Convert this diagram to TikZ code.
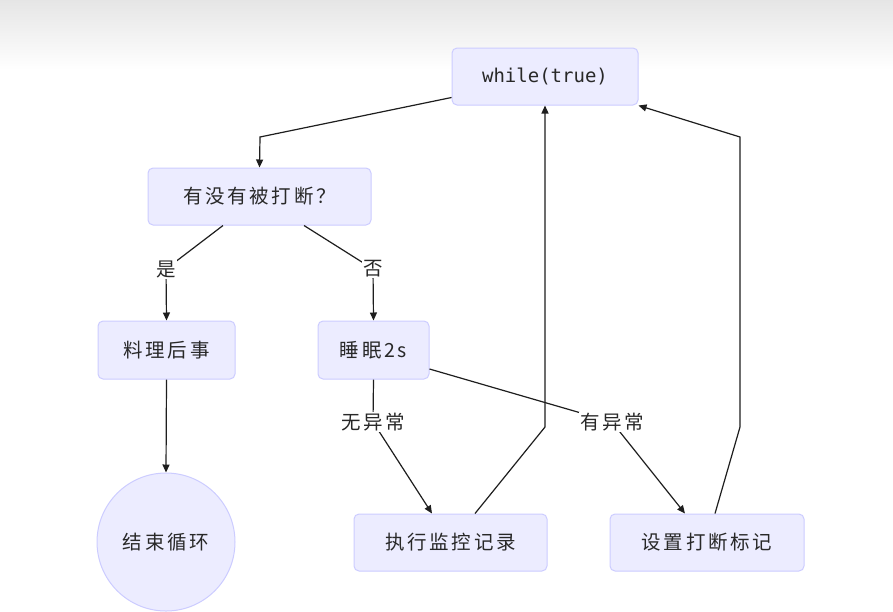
\documentclass[tikz,border=0pt]{standalone}
\usepackage{fontspec}
\setmainfont{Noto Sans CJK SC}
\newfontfamily\cjk[LetterSpace=14]{Noto Sans CJK SC}
\newfontfamily\codefont{DejaVu Sans Mono}
\usetikzlibrary{arrows.meta}
\definecolor{nodefill}{RGB}{236,236,255}
\definecolor{nodeline}{RGB}{204,204,255}
\definecolor{txt}{RGB}{40,40,40}
\definecolor{edge}{RGB}{30,30,30}
\begin{document}
\begin{tikzpicture}[x=1pt,y=-1pt,
  box/.style={draw=nodeline,fill=nodefill,line width=1pt,rounded corners=5pt,
    inner sep=0pt,text=txt,font=\cjk\fontsize{19.5}{22}\selectfont},
  roundnode/.style={circle,draw=nodeline,fill=nodefill,line width=1pt,
    minimum size=138pt,inner sep=0pt,text=txt,font=\cjk\fontsize{19.5}{22}\selectfont},
  lbl/.style={fill=white,inner sep=1pt,text=txt,font=\cjk\fontsize{19.5}{22}\selectfont},
  link/.style={draw=edge,line width=1.2pt},
  arr/.style={link,-{Triangle[length=8pt,width=7pt]}}]
\useasboundingbox (0,0) rectangle (893,611);
\clip (0,0) rectangle (893,611);
\fill[white] (0,0) rectangle (893,611);
\shade[top color=black!10,bottom color=white] (0,0) rectangle (893,70);

% nodes
\node[box,minimum width=186pt,minimum height=57pt,font=\codefont\fontsize{19}{21}\selectfont] (w) at (545,76.5) {while(true)};
\node[box,minimum width=223pt,minimum height=57pt] (q) at (259.5,196.5) {有没有被打断？};
\node[box,minimum width=137pt,minimum height=58pt] (a) at (166.5,350) {料理后事};
\node[box,minimum width=111pt,minimum height=58pt] (b) at (373.5,350) {睡眠2s};
\node[roundnode] (c) at (166,542) {结束循环};
\node[box,minimum width=193pt,minimum height=57pt] (e) at (450.5,542.5) {执行监控记录};
\node[box,minimum width=194pt,minimum height=57pt] (f) at (707,542.5) {设置打断标记};

% label positions and bends
\coordinate (ly) at (166,269);
\coordinate (ln) at (373,269);
\coordinate (lok) at (373,422);
\coordinate (lex) at (612,422);
\coordinate (k1) at (260,137);
\coordinate (k2) at (545,427);
\coordinate (k3) at (740,427);
\coordinate (k4) at (740,137);

% edges
\draw[arr] ([yshift=8pt]w.south west) -- (k1) -- (q.north);
\draw[arr] ([xshift=-36.5pt]q.south) -- (ly) -- (a.north);
\draw[arr] ([xshift=44.5pt]q.south) -- (ln) -- (b.north);
\draw[arr] (b.south) -- (lok) -- ([xshift=-18.5pt]e.north);
\draw[arr] ([yshift=-19pt]b.east) -- (lex) -- ([xshift=-22pt]f.north);
\draw[arr] ([xshift=24.5pt]e.north) -- (k2) -- (w.south);
\draw[arr] ([xshift=8pt]f.north) -- (k3) -- (k4) -- (w.south east);
\draw[arr] (a.south) -- (c.north);

% labels
\node[lbl] at (ly) {是};
\node[lbl] at (ln) {否};
\node[lbl] at (lok) {无异常};
\node[lbl] at (lex) {有异常};
\end{tikzpicture}
\end{document}
